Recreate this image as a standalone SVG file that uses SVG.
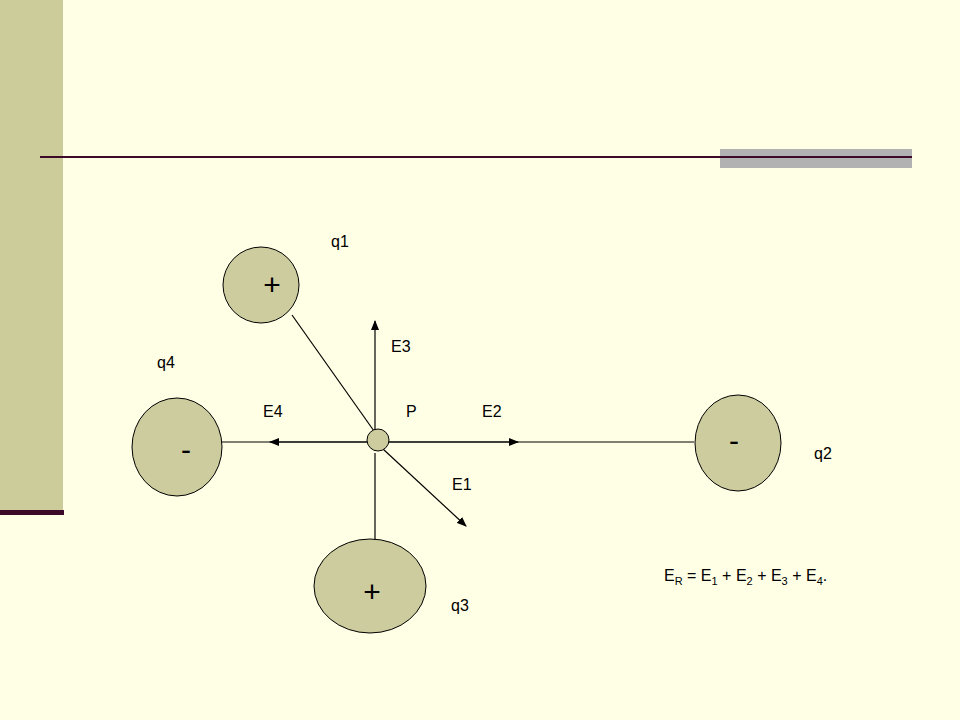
<svg xmlns="http://www.w3.org/2000/svg" width="960" height="720" viewBox="0 0 960 720">
<defs><marker id="ah" markerWidth="10" markerHeight="8" refX="9" refY="4" orient="auto" markerUnits="userSpaceOnUse"><path d="M0,0 L10,4 L0,8 z" fill="#000"/></marker></defs>
<style>.c{fill:#cccc9e;stroke:#000;stroke-width:1}.t{font-family:"Liberation Sans",Arial,sans-serif;font-size:16px;fill:#000}.s{font-family:"Liberation Sans",Arial,sans-serif;font-size:30px;fill:#000;text-anchor:middle}.l{stroke:#000;stroke-width:1.2;fill:none}</style>
<rect width="960" height="720" fill="#ffffe5"/>
<rect x="0" y="0" width="63" height="512" fill="#cccc9a"/>
<rect x="0" y="510" width="64" height="5" fill="#3c0a28"/>
<rect x="720" y="149" width="192" height="19" fill="#b2b2b2"/>
<rect x="40" y="156" width="872" height="2" fill="#3c0a28"/>
<g id="connectors">
<line class="l" x1="222" y1="442" x2="367" y2="442"/>
<line class="l" x1="389" y1="442" x2="694" y2="442"/>
<line class="l" x1="367" y1="442" x2="270" y2="442" marker-end="url(#ah)"/>
<line class="l" x1="389" y1="442" x2="518" y2="442" marker-end="url(#ah)"/>
<line class="l" x1="375" y1="430" x2="375" y2="321" marker-end="url(#ah)"/>
<line class="l" x1="375" y1="453" x2="375" y2="540"/>
<line class="l" x1="383" y1="449" x2="466" y2="526" marker-end="url(#ah)"/>
<line class="l" x1="292" y1="315" x2="374" y2="431"/>
</g>
<g id="q1"><circle class="c" cx="261" cy="285" r="38"/><text class="s" x="272" y="295">+</text><text class="t" x="331" y="247">q1</text></g>
<g id="q4"><ellipse class="c" cx="177" cy="447" rx="45" ry="49"/><text class="s" x="186" y="460">-</text><text class="t" x="157" y="368">q4</text></g>
<g id="q2"><ellipse class="c" cx="738" cy="443" rx="43" ry="48"/><text class="s" x="734" y="451">-</text><text class="t" x="814" y="459">q2</text></g>
<g id="q3"><ellipse class="c" cx="370" cy="586" rx="56" ry="47"/><text class="s" x="372" y="602">+</text><text class="t" x="451" y="611">q3</text></g>
<g id="P"><circle class="c" cx="378" cy="440" r="11"/><text class="t" x="406" y="417">P</text></g>
<text class="t" x="391" y="352">E3</text>
<text class="t" x="263" y="417">E4</text>
<text class="t" x="482" y="417">E2</text>
<text class="t" x="452" y="490">E1</text>
<text class="t" x="664" y="581">E<tspan font-size="11" dy="4">R</tspan><tspan dy="-4"> = E</tspan><tspan font-size="11" dy="4">1</tspan><tspan dy="-4"> + E</tspan><tspan font-size="11" dy="4">2</tspan><tspan dy="-4"> + E</tspan><tspan font-size="11" dy="4">3</tspan><tspan dy="-4"> + E</tspan><tspan font-size="11" dy="4">4</tspan><tspan dy="-4">.</tspan></text>
</svg>
